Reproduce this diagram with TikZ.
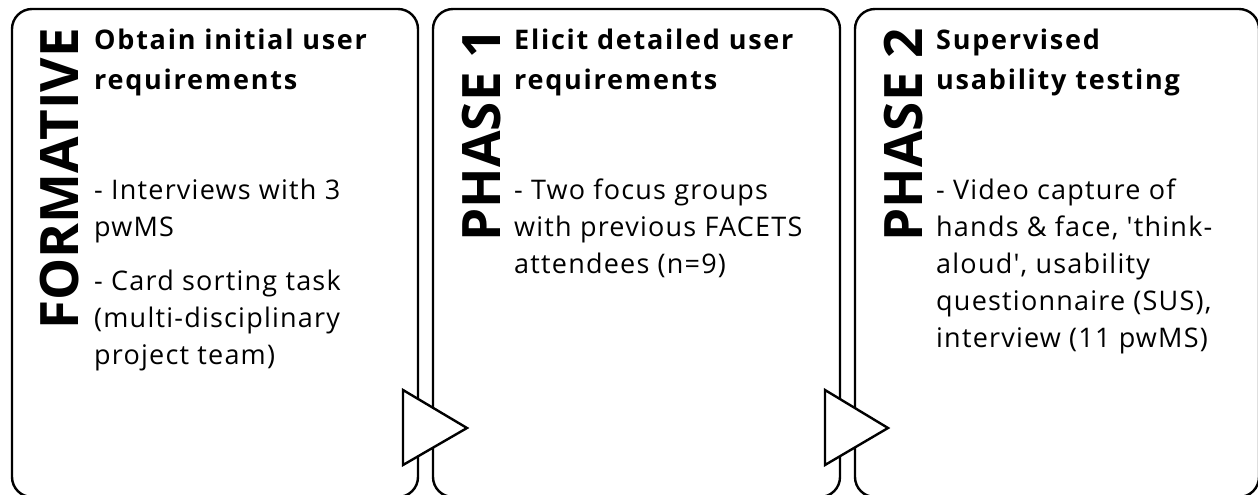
\documentclass[tikz,border=0pt]{standalone}
\usepackage{fontspec}
\setmainfont{Open Sans}
\newfontfamily\spaced{Open Sans}[LetterSpace=4.5, Ligatures=TeXOff]
\newfontfamily\headspaced{Open Sans}[LetterSpace=6.5, Ligatures=TeXOff]
\tikzset{
  stage/.style={draw, line width=2.4pt, rounded corners=20pt},
  phase/.style={rotate=90, anchor=base east, inner sep=0pt, font=\fontsize{53}{53}\selectfont\bfseries},
  heading/.style={anchor=north west, inner sep=0pt, align=left, font=\headspaced\fontsize{27}{40}\selectfont\bfseries},
  detail/.style={anchor=north west, inner sep=0pt, align=left, font=\spaced\fontsize{27}{37}\selectfont},
  flow/.style={draw, fill=white, line width=2.4pt, line join=miter}
}
\begin{document}
\begin{tikzpicture}[x=1pt,y=-1pt]
        \useasboundingbox (0,0) rectangle (1258,495);

        \coordinate (F1) at (12,9);
        \coordinate (F2) at (418,497);
        \coordinate (P1) at (433,9);
        \coordinate (P2) at (840,497);
        \coordinate (Q1) at (855,9);
        \coordinate (Q2) at (1259,497);

        \draw[stage] (F1) rectangle (F2);
        \draw[stage] (P1) rectangle (P2);
        \draw[stage] (Q1) rectangle (Q2);

    % Stage labels
    \node[phase] (formative) at (78,28) {FORMATIVE};
    \node[phase] (phaseone) at (500,28) {PHASE 1};
    \node[phase] (phasetwo) at (922,28) {PHASE 2};

    % Headings
    \node[heading] (obtain) at (94,29) {Obtain initial user\\requirements};
    \node[heading] (elicit) at (514,29) {Elicit detailed user\\requirements};
    \node[heading] (testing) at (936,29) {Supervised\\usability testing};

    % Methods
    \node[detail] (interviews) at (94,179) {- Interviews with 3\\pwMS\\[17pt]- Card sorting task\\(multi-disciplinary\\project team)};
    \node[detail] (focus) at (514,179) {- Two focus groups\\with previous FACETS\\attendees (n=9)};
    \node[detail] (video) at (936,179) {- Video capture of\\hands \& face, 'think-\\aloud', usability\\questionnaire (SUS),\\interview (11 pwMS)};

    % Arrows
    \draw[flow] (403,390) -- (467,428) -- (403,465) -- cycle;
    \draw[flow] (825,390) -- (888,428) -- (825,465) -- cycle;
    \end{tikzpicture}
\end{document}
